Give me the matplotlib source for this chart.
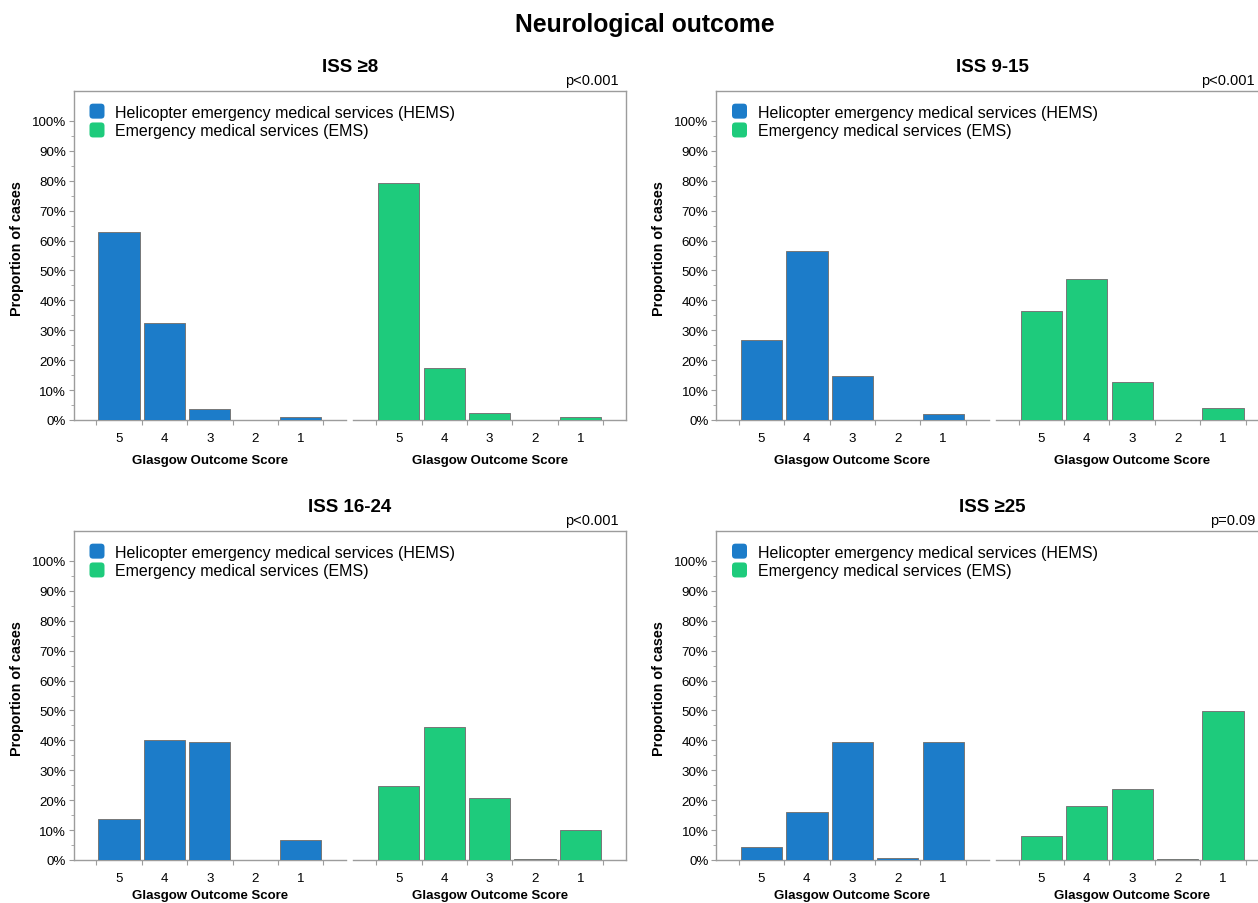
import numpy as np
import matplotlib
matplotlib.use("Agg")
import matplotlib.pyplot as plt
from matplotlib.patches import Patch, FancyBboxPatch
from matplotlib.legend_handler import HandlerPatch

plt.rcParams['font.family'] = ['Liberation Sans', 'DejaVu Sans']

# data (percent of cases per Glasgow Outcome Score)
scores = ["5", "4", "3", "2", "1"]
titles = ["ISS \u22658", "ISS 9-15", "ISS 16-24", "ISS \u226525"]
pvals = ["p<0.001", "p<0.001", "p<0.001", "p=0.09"]

hems_iss8 = [62.7, 32.5, 3.7, 0.0, 1.1]
ems_iss8 = [79.4, 17.4, 2.4, 0.0, 0.9]
hems_9_15 = [26.7, 56.6, 14.8, 0.0, 1.9]
ems_9_15 = [36.6, 47.2, 12.6, 0.0, 3.9]
hems_16_24 = [13.8, 40.2, 39.4, 0.0, 6.6]
ems_16_24 = [24.8, 44.5, 20.6, 0.2, 9.9]
hems_25 = [4.5, 15.9, 39.4, 0.6, 39.5]
ems_25 = [7.9, 18.0, 23.7, 0.4, 49.8]

hems_all = [hems_iss8, hems_9_15, hems_16_24, hems_25]
ems_all = [ems_iss8, ems_9_15, ems_16_24, ems_25]

blue = "#1c7cc9"
green = "#1ecb7c"
gray = "#9c9c9c"
W, H = 1258, 904


class RoundHandler(HandlerPatch):
    def create_artists(self, legend, orig_handle, xdescent, ydescent,
                       width, height, fontsize, trans):
        s = 15 / 100 * 72  # px -> points
        p = FancyBboxPatch((-xdescent, -ydescent + height / 2 - s / 2), s, s,
                           boxstyle="round,pad=0,rounding_size=2.5",
                           fc=orig_handle.get_facecolor(), ec="none",
                           transform=trans)
        return [p]


fig = plt.figure(figsize=(W / 100, H / 100), dpi=100)
fig.text(644.5 / W, 1 - 25 / H, "Neurological outcome", ha="center", va="center",
         fontsize=17.8, fontweight="bold")

lefts = [73.5, 716, 73.5, 716]
zeros = [421, 421, 861, 861]
aw, ah = 552.5, 329

x = np.arange(5)
offset = 6.16
bw = 0.91

for i in range(4):
    ax = fig.add_axes([lefts[i] / W, 1 - zeros[i] / H, aw / W, ah / H])
    ax.bar(x, hems_all[i], width=bw, color=blue, edgecolor="#777777",
           linewidth=0.7, zorder=3)
    ax.bar(x + offset, ems_all[i], width=bw, color=green, edgecolor="#777777",
           linewidth=0.7, zorder=3)

    ax.set_xlim(-1, 11.16)
    ax.set_ylim(0, 110)

    for s in ["left", "top", "right"]:
        ax.spines[s].set_color(gray)
        ax.spines[s].set_linewidth(1)
    ax.spines["bottom"].set_visible(False)
    ax.plot([-1, 5.0], [0, 0], color=gray, lw=1, zorder=2, clip_on=False)
    ax.plot([5.16, 11.16], [0, 0], color=gray, lw=1, zorder=2, clip_on=False)

    bounds = list(np.arange(-0.5, 5, 1)) + list(np.arange(-0.5, 5, 1) + offset)
    ax.set_xticks(bounds)
    ax.set_xticklabels([])
    ax.set_xticks(list(x) + list(x + offset), minor=True)
    ax.set_xticklabels(scores + scores, minor=True)
    ax.tick_params(axis="x", which="major", length=3.6, color=gray, direction="out")
    ax.tick_params(axis="x", which="minor", length=0, pad=8.5, labelsize=9.6)

    ax.set_yticks(np.arange(0, 101, 10))
    ax.set_yticklabels([f"{v}%" for v in range(0, 101, 10)])
    ax.set_yticks(np.arange(5, 100, 10), minor=True)
    ax.tick_params(axis="y", which="major", length=3.6, color=gray, pad=1.8,
                   labelsize=9.6)
    ax.tick_params(axis="y", which="minor", length=2.2, color=gray)

    # bottom row: keep the axis title inside the canvas
    xl_off = 40 if i < 2 else 35
    for cx in [2, 2 + offset]:
        ax.annotate("Glasgow Outcome Score", xy=(cx, 0),
                    xycoords=("data", "axes fraction"),
                    xytext=(0, -xl_off * 0.72), textcoords="offset points",
                    ha="center", va="center", fontsize=9.5, fontweight="bold")

    ax.text((17 - 73.5) / aw, (421 - 249) / ah,
            "Proportion of cases", rotation=90, ha="center", va="center",
            transform=ax.transAxes, fontsize=10.4, fontweight="bold")

    ax.text(0.5, 1 + 24 / ah, titles[i], ha="center", va="center",
            transform=ax.transAxes, fontsize=13.5, fontweight="bold")
    pright = min(lefts[i] + aw - 7, W - 3)
    ax.text((pright - lefts[i]) / aw, 1 + 11 / ah, pvals[i], ha="right",
            va="center", transform=ax.transAxes, fontsize=10.5)

    handles = [Patch(facecolor=blue), Patch(facecolor=green)]
    ax.legend(handles, ["Helicopter emergency medical services (HEMS)",
                        "Emergency medical services (EMS)"],
              handler_map={Patch: RoundHandler()}, loc="upper left",
              bbox_to_anchor=(16 / aw, 1 - 13 / ah), frameon=False,
              fontsize=11.5, handlelength=1.0, handleheight=1.0,
              handletextpad=0.6, labelspacing=0.2, borderaxespad=0,
              borderpad=0)

fig.savefig("out.png", dpi=100)
